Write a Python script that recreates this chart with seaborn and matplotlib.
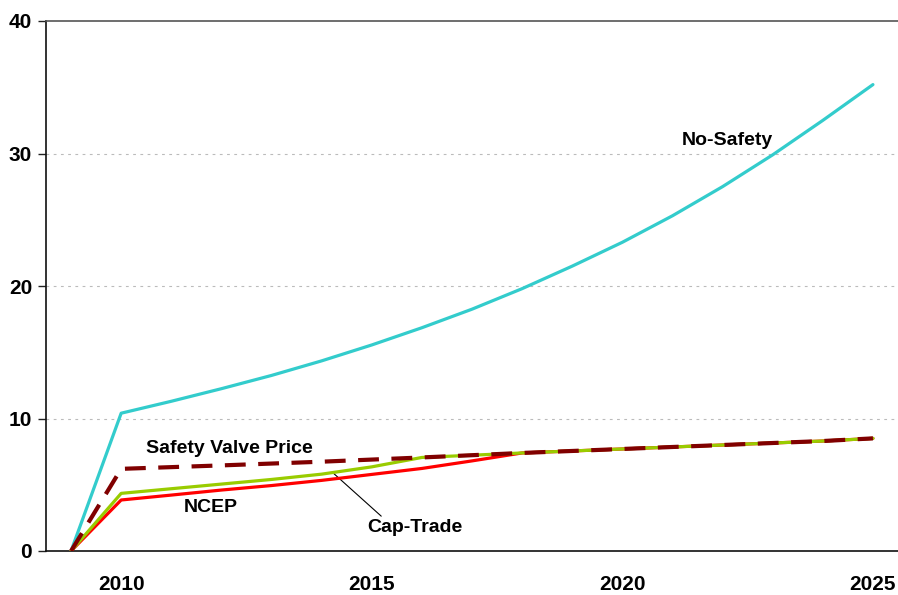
import numpy as np
import pandas as pd
import seaborn as sns
import matplotlib.pyplot as plt
from matplotlib.ticker import FixedLocator

# values
years = list(range(2009, 2026))
no_safety = [0, 10.4, 11.3, 12.25, 13.25, 14.35, 15.55, 16.85, 18.25, 19.8, 21.5, 23.3, 25.3, 27.5, 29.9, 32.5, 35.2]
safety_valve = [0, 6.2, 6.33, 6.46, 6.6, 6.74, 6.9, 7.06, 7.23, 7.4, 7.55, 7.7, 7.85, 8.0, 8.15, 8.3, 8.5]
cap_trade = [0, 4.35, 4.7, 5.05, 5.4, 5.8, 6.35, 7.06, 7.23, 7.4, 7.55, 7.7, 7.85, 8.0, 8.15, 8.3, 8.5]
ncep = [0, 3.85, 4.22, 4.6, 4.94, 5.33, 5.78, 6.23, 6.8, 7.4, 7.55, 7.7, 7.85, 8.0, 8.15, 8.3, 8.5]

df = pd.DataFrame({'year': years, 'No-Safety': no_safety, 'NCEP': ncep,
                   'Cap-Trade': cap_trade, 'Safety Valve Price': safety_valve})

sns.set_style('white')
plt.rcParams['font.family'] = ['Liberation Sans', 'DejaVu Sans']
plt.rcParams['font.weight'] = 'bold'
plt.rcParams['text.color'] = 'black'
plt.rcParams['xtick.color'] = 'black'
plt.rcParams['ytick.color'] = 'black'

fig, ax = plt.subplots(figsize=(8.98, 5.95), dpi=100)
fig.subplots_adjust(left=46 / 898, right=1.0, bottom=44 / 595, top=1 - 21 / 595)

sns.lineplot(data=df, x='year', y='No-Safety', color='#33CCCC', lw=2.3, ax=ax, zorder=3)
sns.lineplot(data=df, x='year', y='NCEP', color='#FF0000', lw=2.3, ax=ax, zorder=4)
sns.lineplot(data=df, x='year', y='Cap-Trade', color='#99CC00', lw=2.3, ax=ax, zorder=5)
sns.lineplot(data=df, x='year', y='Safety Valve Price', color='#800000', lw=3.0, ax=ax, zorder=6)
ax.lines[-1].set_dashes((5, 3))

ax.set_xlim(2008.5, 2025.5)
ax.set_ylim(0, 40)
ax.set_xlabel('')
ax.set_ylabel('')

ax.set_yticks([0, 10, 20, 30, 40])
ax.set_xticks([2010, 2015, 2020, 2025])
ax.xaxis.set_minor_locator(FixedLocator(np.arange(2008.5, 2026, 1)))
ax.tick_params(axis='x', which='major', length=0, pad=17, labelsize=15)
ax.tick_params(axis='x', which='minor', length=6, width=1, color='#444444', direction='out')
ax.tick_params(axis='y', which='major', length=6, width=1, color='#222222', direction='out',
               pad=4, labelsize=15, left=True)
for lab in ax.get_xticklabels() + ax.get_yticklabels():
    lab.set_fontweight('bold')
    lab.set_color('black')

for v in [10, 20, 30]:
    ax.axhline(v, color='#BBBBBB', lw=0.8, ls=(0, (2.5, 4)), zorder=1)

for s in ['left', 'bottom']:
    ax.spines[s].set_color('#111111')
    ax.spines[s].set_linewidth(1.2)
ax.spines['top'].set_color('#555555')
ax.spines['top'].set_linewidth(1.2)
ax.spines['right'].set_visible(False)

fs = 14
ax.text(2022.1, 31.0, 'No-Safety', fontsize=fs, fontweight='bold', ha='center', va='center')
ax.text(2012.15, 7.77, 'Safety Valve Price', fontsize=fs, fontweight='bold', ha='center', va='center')
ax.text(2011.79, 3.25, 'NCEP', fontsize=fs, fontweight='bold', ha='center', va='center')
x_lead = 2014.22
ax.annotate('Cap-Trade', xy=(x_lead, np.interp(x_lead, years, cap_trade)), xytext=(2015.87, 1.74),
            fontsize=fs, fontweight='bold', ha='center', va='center',
            arrowprops=dict(arrowstyle='-', color='black', lw=0.8, shrinkA=0, shrinkB=0,
                            relpos=(0.18, 1.0)))

fig.savefig('out.png', dpi=100)
